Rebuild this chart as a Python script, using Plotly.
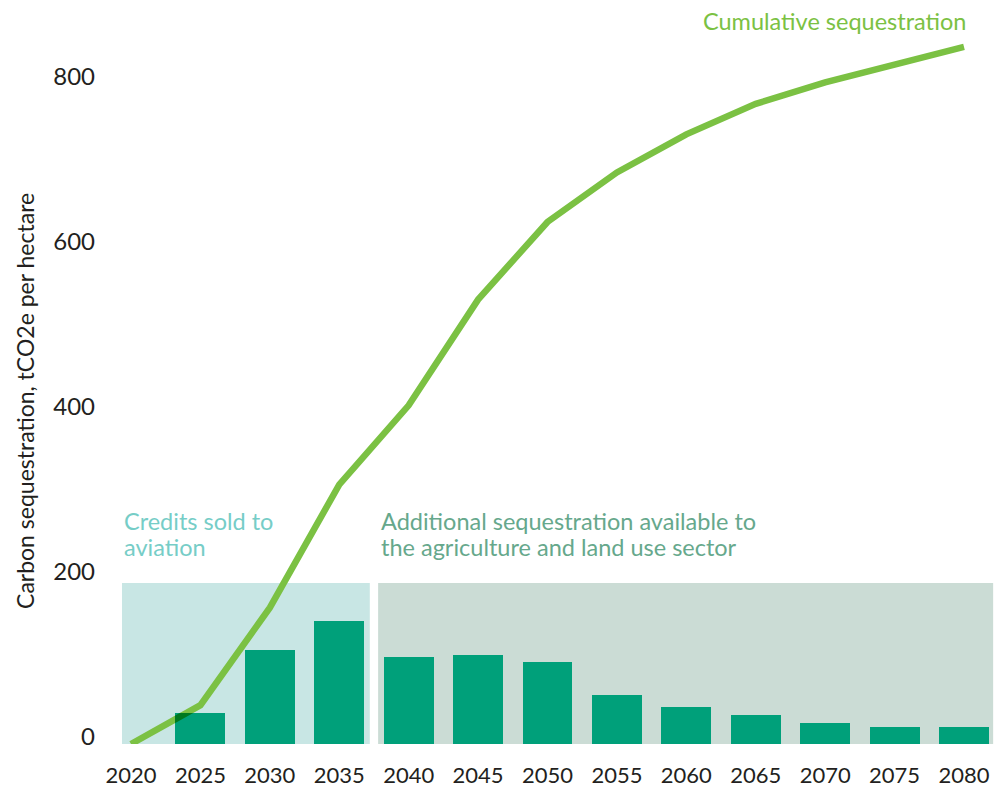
import plotly.graph_objects as go

years = [2020, 2025, 2030, 2035, 2040, 2045, 2050, 2055, 2060, 2065, 2070, 2075, 2080]
annual = [0, 37, 114, 149, 105, 108, 99, 59, 45, 35, 26, 20, 20]
cumulative = [0, 47, 165, 314, 410, 538, 632, 692, 738, 775, 801, 822, 844]
y_ticks = [0, 200, 400, 600, 800]

credits_span = [2019.35, 2037.2]
additional_span = [2037.8, 2082.1]
box_top = 195

credits_lines = ["Credits sold to", "aviation"]
additional_lines = ["Additional sequestration available to", "the agriculture and land use sector"]
label_line_y = [270, 238.5]

font_family = "Lato, 'Open Sans', sans-serif"
tick_color = "#231F20"

fig = go.Figure()

fig.add_trace(go.Bar(
    x=years, y=annual, width=3.6,
    marker=dict(color="#00A07A", line=dict(width=0)),
    showlegend=False, hoverinfo="skip",
))
fig.add_trace(go.Scatter(
    x=years, y=cumulative, mode="lines",
    line=dict(color="#7BC143", width=6.5),
    showlegend=False, hoverinfo="skip",
))

fig.add_shape(type="rect", xref="x", yref="y",
              x0=credits_span[0], x1=credits_span[1], y0=0, y1=box_top,
              fillcolor="#C8E6E4", line=dict(width=0), layer="below")
fig.add_shape(type="rect", xref="x", yref="y",
              x0=additional_span[0], x1=additional_span[1], y0=0, y1=box_top,
              fillcolor="#CBDCD5", line=dict(width=0), layer="below")

for txt, yy in zip(credits_lines, label_line_y):
    fig.add_annotation(x=credits_span[0], y=yy, xref="x", yref="y",
                       text=txt, showarrow=False, xanchor="left", yanchor="middle",
                       font=dict(family=font_family, size=23.5, color="#76CDC7"))
for txt, yy in zip(additional_lines, label_line_y):
    fig.add_annotation(x=2037.85, y=yy, xref="x", yref="y",
                       text=txt, showarrow=False, xanchor="left", yanchor="middle",
                       font=dict(family=font_family, size=23.5, color="#66A88C"))
fig.add_annotation(x=2080.3, y=875, xref="x", yref="y",
                   text="Cumulative sequestration", showarrow=False,
                   xanchor="right", yanchor="middle",
                   font=dict(family=font_family, size=23.5, color="#7BC143"))
fig.add_annotation(x=-0.0955, y=0.4738, xref="paper", yref="paper",
                   text="Carbon sequestration, tCO2e per hectare", showarrow=False,
                   textangle=-90, xanchor="center", yanchor="middle",
                   font=dict(family=font_family, size=23, color=tick_color))

fig.update_layout(
    width=996, height=785,
    margin=dict(l=102, r=4, t=12, b=49),
    paper_bgcolor="white", plot_bgcolor="white",
    bargap=0,
    xaxis=dict(range=[2018.487, 2082.594], tickmode="array", tickvals=years,
               ticktext=[str(y) for y in years], showgrid=False, zeroline=False,
               showline=False, ticks="", ticklabelstandoff=16,
               tickfont=dict(family=font_family, size=22, color=tick_color)),
    yaxis=dict(range=[0, 876.5], tickmode="array", tickvals=y_ticks,
               showgrid=False, zeroline=False, showline=False, ticks="",
               ticklabelstandoff=14, ticklabelshift=-7,
               tickfont=dict(family=font_family, size=24, color=tick_color)),
)

# the reference overprints the line (multiply), darkening it where it crosses boxes/bars
blend_js = ("document.querySelectorAll('.scatterlayer .js-line')"
            ".forEach(function(e){e.style.mixBlendMode='multiply';});")

fig.write_html("out.html", post_script=blend_js)
